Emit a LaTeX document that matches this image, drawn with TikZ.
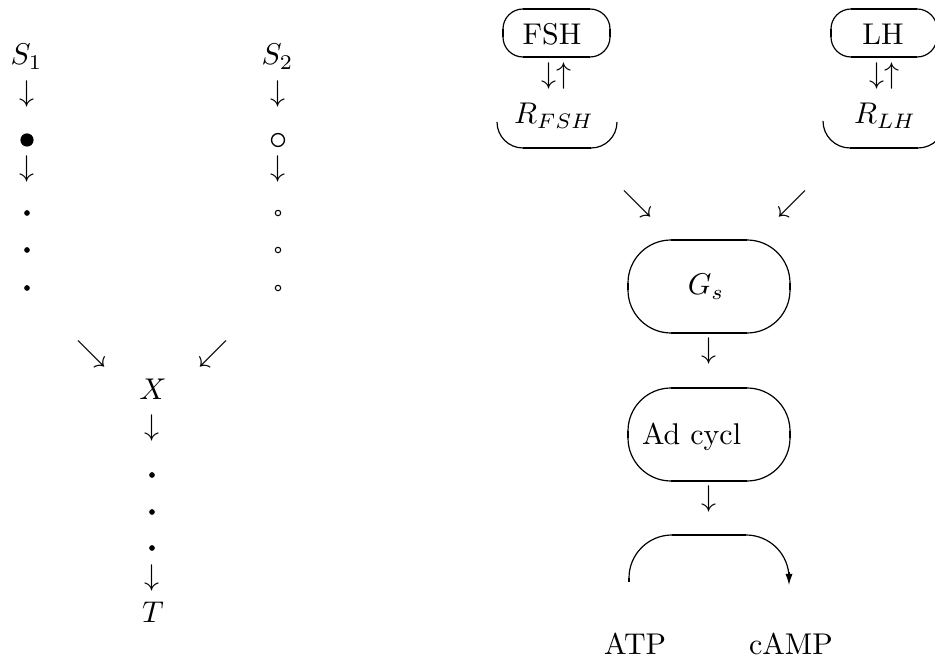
\documentclass[tikz,border=0pt]{standalone}
\usetikzlibrary{arrows.meta}
\tikzset{
  lbl/.style={inner sep=0pt, outer sep=0pt, anchor=base},
  lblw/.style={inner sep=0pt, outer sep=0pt, anchor=base west},
  bigdot/.style={circle, fill, inner sep=0pt, minimum size=4.4pt},
  bigring/.style={circle, draw, line width=0.45pt, inner sep=0pt, minimum size=4.3pt},
  smalldot/.style={circle, fill, inner sep=0pt, minimum size=1.9pt},
  smallring/.style={circle, draw, line width=0.35pt, inner sep=0pt, minimum size=1.8pt},
  arcline/.style={line width=0.4pt},
  flatline/.style={line width=0.9pt},
}
% full oval: x1, x2, top, bottom, radius (pixel units, y downwards)
\newcommand\myfulloval[5]{%
  \draw[arcline] (#1,{-(#3)-(#5)}) arc[start angle=180,end angle=90,radius=#5];
  \draw[arcline] ({#2-(#5)},{-(#3)}) arc[start angle=90,end angle=0,radius=#5];
  \draw[arcline] (#2,{-(#4)+(#5)}) arc[start angle=0,end angle=-90,radius=#5];
  \draw[arcline] ({#1+(#5)},{-(#4)}) arc[start angle=270,end angle=180,radius=#5];
  \draw[flatline] ({#1+(#5)},{-(#3)}) -- ({#2-(#5)},{-(#3)});
  \draw[flatline] ({#1+(#5)},{-(#4)}) -- ({#2-(#5)},{-(#4)});
  \draw[flatline] (#1,{-(#3)-(#5)}) -- (#1,{-(#4)+(#5)});
  \draw[flatline] (#2,{-(#3)-(#5)}) -- (#2,{-(#4)+(#5)});
}
% bottom half oval: x1, x2, bottom, radius
\newcommand\mybottomoval[4]{%
  \draw[arcline] (#1,{-(#3)+(#4)}) arc[start angle=180,end angle=270,radius=#4];
  \draw[flatline] ({#1+(#4)},{-(#3)}) -- ({#2-(#4)},{-(#3)});
  \draw[arcline] ({#2-(#4)},{-(#3)}) arc[start angle=270,end angle=360,radius=#4];
}
\begin{document}
\begin{tikzpicture}[x=0.333333pt, y=0.333333pt]
\useasboundingbox (0,0) rectangle (935,-659);

% ---------- left diagram ----------
\node[lbl] (s1) at (26.5,-65) {$S_1$};
\node[lbl] (s1a) at (27,-102) {$\downarrow$};
\node[bigdot] (s1b) at (27,-140) {};
\node[lbl] (s1c) at (27,-177) {$\downarrow$};
\node[smalldot] (s1d) at (27,-213) {};
\node[smalldot] (s1e) at (27,-250) {};
\node[smalldot] (s1f) at (27,-288) {};

\node[lbl] (s2) at (277.5,-65) {$S_2$};
\node[lbl] (s2a) at (278,-102) {$\downarrow$};
\node[bigring] (s2b) at (278,-140) {};
\node[lbl] (s2c) at (278,-177) {$\downarrow$};
\node[smallring] (s2d) at (278,-213) {};
\node[smallring] (s2e) at (278,-250) {};
\node[smallring] (s2f) at (278,-288) {};

\node[lbl] (se) at (91,-362) {$\searrow$};
\node[lbl] (sw) at (214,-362) {$\swarrow$};
\node[lbl] (x) at (153,-400) {$X$};
\node[lbl] (xa) at (152,-436) {$\downarrow$};
\node[smalldot] (xd1) at (152,-475) {};
\node[smalldot] (xd2) at (152,-512) {};
\node[smalldot] (xd3) at (152,-548) {};
\node[lbl] (xb) at (152,-586) {$\downarrow$};
\node[lbl] (t) at (153,-623) {$T$};

% ---------- right diagram ----------
\myfulloval{503}{610}{9}{57}{20}
\node[lbl] (fsh) at (552,-45) {FSH};
\node[lbl] (fsharr) at (556,-84) {$\downarrow\uparrow$};
\node[lbl] (rfsh) at (554,-124) {$R_{FSH}$};
\mybottomoval{497}{617}{148}{26}

\myfulloval{831}{937}{9}{57}{20}
\node[lbl] (lh) at (883,-45) {LH};
\node[lbl] (lharr) at (884,-84) {$\downarrow\uparrow$};
\node[lbl] (rlh) at (885,-124) {$R_{LH}$};
\mybottomoval{823}{945}{148}{27}

\node[lbl] (se2) at (637,-212) {$\searrow$};
\node[lbl] (sw2) at (792,-212) {$\swarrow$};

\myfulloval{628}{790}{240}{333}{43}
\node[lbl] (gs) at (706,-295) {$G_s$};
\node[lbl] (gsa) at (709,-359) {$\downarrow$};

\myfulloval{628}{790}{388}{481}{43}
\node[lblw] (ad) at (642,-445) {Ad cycl};
\node[lbl] (ada) at (709,-507) {$\downarrow$};

% top half oval with arrow
\draw[flatline] (629,-582) -- (629,-578);
\draw[arcline] (629,-578) arc[start angle=180,end angle=90,radius=43];
\draw[flatline] (672,-535) -- (746,-535);
\draw[arcline] (746,-535) arc[start angle=90,end angle=0,radius=43];
\coordinate (tipstart) at (789,-572);
\coordinate (tipend) at (789,-585);
\draw[arcline, -{Latex[length=3.7pt,width=2.4pt]}] (tipstart) -- (tipend);

\node[lblw] (atp) at (604,-655) {ATP};
\node[lblw] (camp) at (749,-655) {cAMP};
\end{tikzpicture}
\end{document}
